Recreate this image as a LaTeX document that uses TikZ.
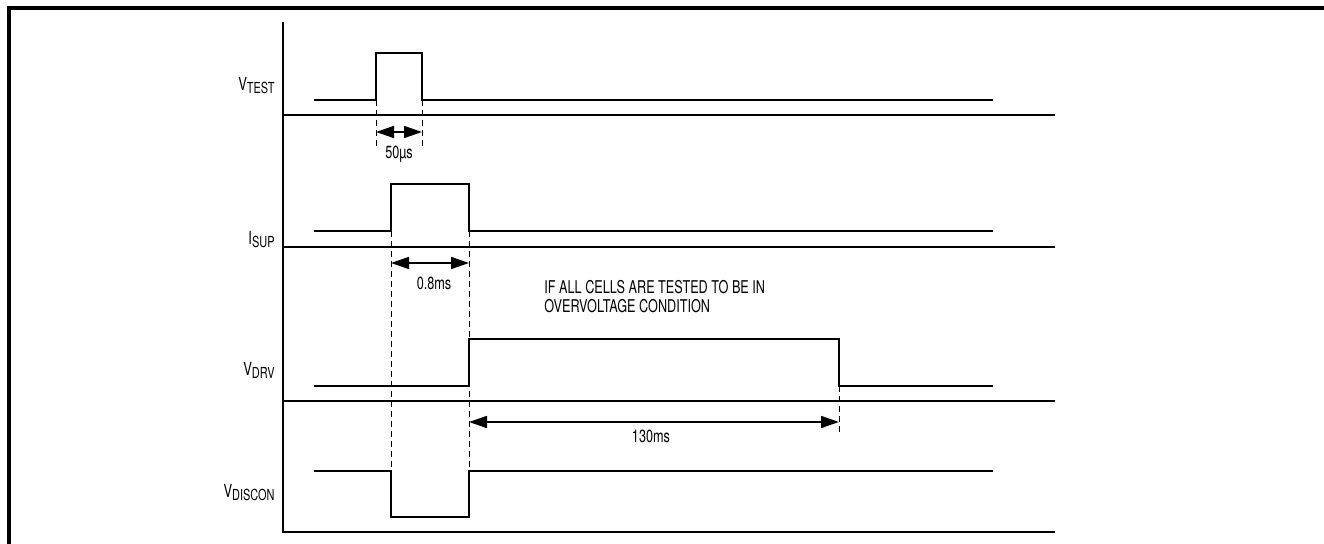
\documentclass[tikz,border=0pt]{standalone}
\usepackage{fontspec}
\setmainfont{TeX Gyre Heros}[FakeStretch=0.72]
\usetikzlibrary{arrows.meta}
\newcommand{\subtxt}[1]{\raisebox{-1.3pt}{\fontsize{7.6}{8}\selectfont #1}}

\begin{document}
\begin{tikzpicture}[
  x=0.5pt, y=-0.5pt,
  lbl/.style={anchor=base east, inner sep=0pt, font=\fontsize{9}{10}\selectfont},
  txt/.style={anchor=base, inner sep=0pt, font=\fontsize{8.8}{10}\selectfont},
  sig/.style={line width=1pt, line join=miter},
  axis/.style={line width=1pt},
  guide/.style={dashed, dash pattern=on 3pt off 2pt, line width=0.5pt},
  dim/.style={{Triangle[length=9pt,width=6pt]}-{Triangle[length=9pt,width=6pt]}, line width=0.8pt}
]
\useasboundingbox (0,0) rectangle (1324,544);
% frame
\draw[line width=1.6pt] (9,544) -- (9,8) -- (1324,8);
% axes
\draw[axis] (283,22) -- (283,532) -- (1055,532);
\draw[axis] (283,115) -- (1055,115);
\draw[axis] (283,247) -- (1055,247);
\draw[axis] (283,401) -- (1055,401);

% labels
\node[lbl] (vtest) at (275,91) {V\subtxt{TEST}};
\node[lbl] (isup) at (275,245) {I\subtxt{SUP}};
\node[lbl] (vdrv) at (275,376) {V\subtxt{DRV}};
\node[lbl] (vdiscon) at (275,498) {V\subtxt{DISCON}};

% waveforms
\draw[sig] (314,100) -- (376,100) -- (376,53) -- (422,53) -- (422,100) -- (993,100);
\draw[sig] (314,231) -- (391,231) -- (391,184) -- (469,184) -- (469,231) -- (993,231);
\draw[sig] (314,386) -- (469,386) -- (469,339) -- (839,339) -- (839,386) -- (993,386);
\draw[sig] (314,471) -- (391,471) -- (391,517) -- (469,517) -- (469,471) -- (993,471);

% guides
\coordinate (t1) at (376,132);
\coordinate (t2) at (422,132);
\coordinate (s1) at (391,263);
\coordinate (s2) at (469,263);
\coordinate (d1) at (469,422);
\coordinate (d2) at (839,422);
\draw[guide] (376,100) -- (376,147);
\draw[guide] (422,100) -- (422,147);
\draw[guide] (391,231) -- (391,517);
\draw[guide] (469,231) -- (469,471);
\draw[guide] (839,386) -- (839,432);

% dimensions
\draw[dim] (t1) -- (t2);
\draw[dim] (s1) -- (s2);
\draw[dim] (d1) -- (d2);
\node[txt] (w1) at (399,159) {50µs};
\node[txt] (w2) at (434,290) {0.8ms};
\node[txt] (w3) at (651,443) {130ms};
\node[txt, anchor=base west, align=left] (note) at (544,312.5) {IF ALL CELLS ARE TESTED TO BE IN\\[-0.6pt]OVERVOLTAGE CONDITION};
\end{tikzpicture}
\end{document}
